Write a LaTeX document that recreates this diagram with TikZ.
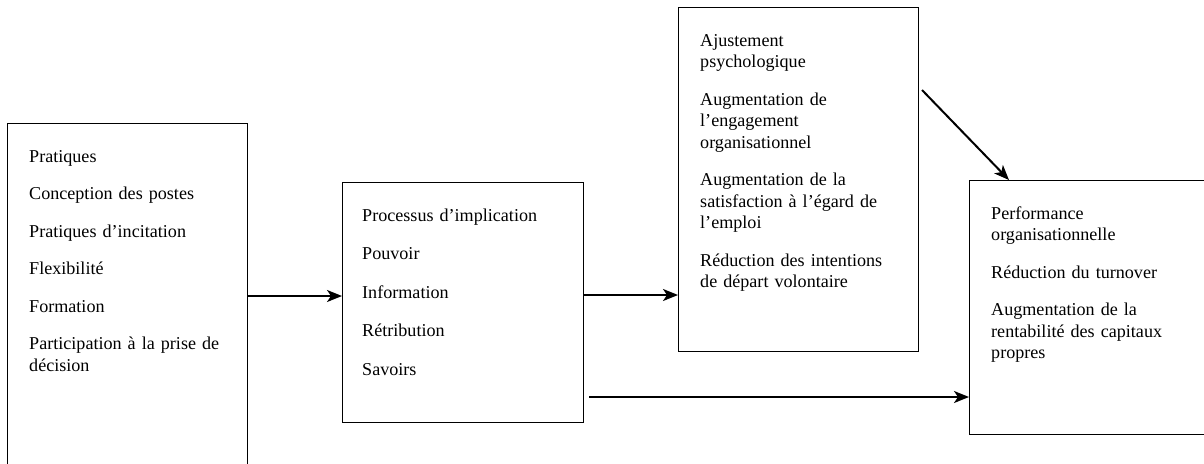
\documentclass[tikz,border=0pt]{standalone}
\usepackage{fontspec}
\setmainfont{Liberation Serif}
\usetikzlibrary{arrows.meta}
\begin{document}
\begin{tikzpicture}[x=1pt,y=-1pt,
  box/.style={draw=black,line width=1pt,rectangle,inner sep=0pt,anchor=north west},
  txt/.style={anchor=base west,inner sep=0pt,text width=230pt,align=left,
    font=\fontsize{18.1}{21.5}\selectfont},
  arr/.style={line width=2pt,-{Stealth[length=15pt,width=12pt,inset=4pt]}}]
\clip (0,0) rectangle (1204,463);
\node[box,minimum width=240pt,minimum height=360pt] (b1) at (7,123) {};
\node[box,minimum width=241pt,minimum height=240pt] (b2) at (342,182) {};
\node[box,minimum width=240pt,minimum height=344pt] (b3) at (678,7) {};
\node[box,minimum width=250pt,minimum height=254pt] (b4) at (969,180) {};
\node[txt] (t1) at (29,162) {Pratiques\\[16pt]Conception des postes\\[16pt]Pratiques d’incitation\\[16pt]Flexibilité\\[16pt]Formation\\[16pt]Participation à la prise de\\décision};
\node[txt] (t2) at (362,221) {Processus d’implication\\[17pt]Pouvoir\\[17pt]Information\\[17pt]Rétribution\\[17pt]Savoirs};
\node[txt] (t3) at (700,46) {Ajustement\\psychologique\\[16pt]Augmentation de\\l’engagement\\organisationnel\\[16pt]Augmentation de la\\satisfaction à l’égard de\\l’emploi\\[16pt]Réduction des intentions\\de départ volontaire};
\node[txt] (t4) at (991,219) {Performance\\organisationnelle\\[16pt]Réduction du turnover\\[16pt]Augmentation de la\\rentabilité des capitaux\\propres};
\coordinate (ya) at (0,296);
\coordinate (yb) at (0,295);
\coordinate (yc) at (0,397);
\coordinate (d1) at (922,90);
\coordinate (d2) at (1009,180);
\coordinate (s4) at (589,397);
\draw[arr] (b1.east |- ya) -- (b2.west |- ya);
\draw[arr] (b2.east |- yb) -- (b3.west |- yb);
\draw[arr] (d1) -- (d2);
\draw[arr] (s4) -- (b4.west |- yc);
\end{tikzpicture}
\end{document}
